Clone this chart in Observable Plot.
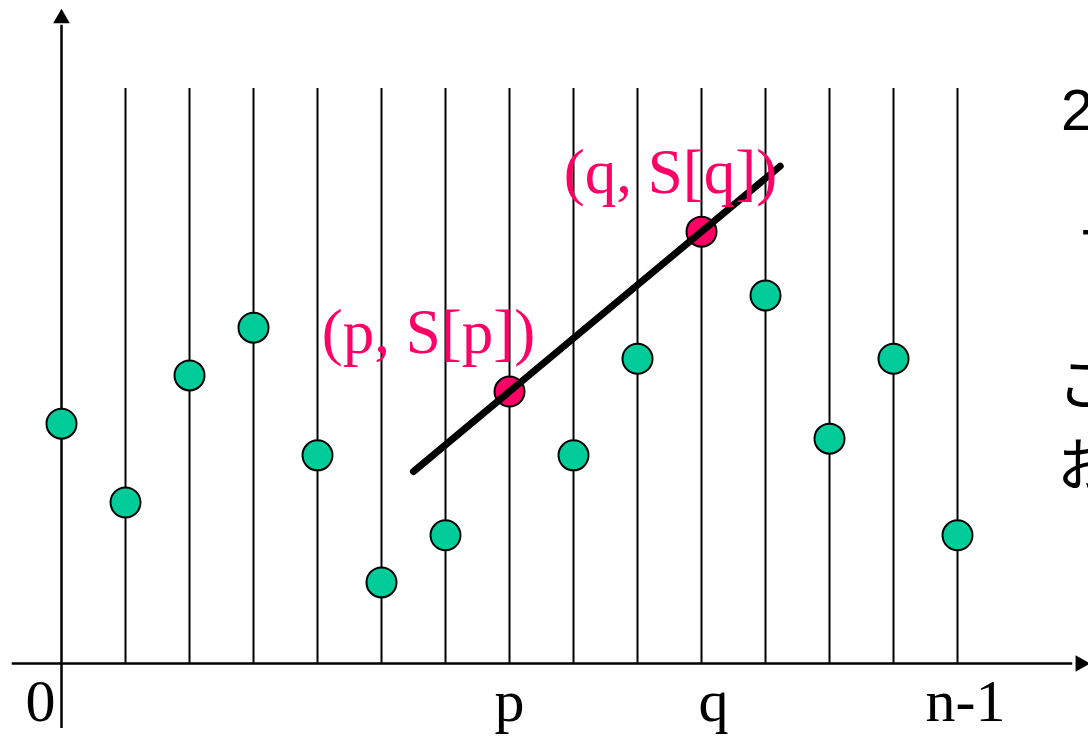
<!DOCTYPE html>
<html>
<head>
<meta charset="utf-8">
<script src="https://cdn.jsdelivr.net/npm/d3@7"></script>
<script src="https://cdn.jsdelivr.net/npm/@observablehq/plot@0.6"></script>
<style>
  html, body { margin: 0; padding: 0; background: #fff; }
  #chart { width: 1088px; height: 742px; overflow: hidden; }
</style>
</head>
<body>
<div id="chart"></div>
<script>
// ---- data ----
const indices = [0, 1, 2, 3, 4, 5, 6, 7, 8, 9, 10, 11, 12, 13, 14];
const values  = [4.17, 2.80, 5.01, 5.84, 3.62, 1.41, 2.23, 4.73, 3.62, 5.30, 7.51, 6.40, 3.91, 5.30, 2.23];
const pIndex = 7;
const qIndex = 10;
const pointLabels = ["(p, S[p])", "(q, S[q])"];
const tickLabels = ["0", "p", "q", "n-1"];
const tickIndex = [0, 7, 10, 14];
const sideText = ["2点を通る直線", "十", "こ", "お"];

// ---- styling / layout ----
const GREEN = "#00CC99";
const RED = "#FF0066";
const serif = "'Liberation Serif', 'Times New Roman', serif";
const jp = "'Liberation Sans', 'Noto Sans CJK JP', sans-serif";

const pts = indices.map((i, k) => ({x: i, y: values[k]}));
const green = pts.filter(d => d.x !== pIndex && d.x !== qIndex);
const red = pts.filter(d => d.x === pIndex || d.x === qIndex);

// line through p and q, extended
const P = pts[pIndex], Q = pts[qIndex];
const slope = (Q.y - P.y) / (Q.x - P.x);
const lineX = [5.5, 11.23];
const fitLine = lineX.map(x => ({x, y: P.y + slope * (x - P.x)}));

const labelData = [
  {x: P.x, y: P.y, t: pointLabels[0], dx: -81},
  {x: Q.x, y: Q.y, t: pointLabels[1], dx: -31}
];
const tickDx = [-21, 0, 12, 8];
const ticks = tickLabels.map((t, k) => ({t, x: tickIndex[k], dx: tickDx[k]}));

const sideLeft = [1061, 1080, 1057, 1057];   // pixel left edges
const sideBase = [130, 257, 405, 486];       // pixel baselines
const side = sideText.map((t, k) => ({t, px: sideLeft[k], py: sideBase[k]}));

const chart = Plot.plot({
  width: 1088,
  height: 742,
  margin: 0,
  x: {domain: [0, 14], range: [61, 957], axis: null},
  y: {domain: [0, 10], range: [663, 88], axis: null},
  marks: [
    // vertical stems
    Plot.ruleX(indices.slice(1), {x: d => d, y1: 0, y2: 10, stroke: "black", strokeWidth: 2}),
    // axes
    Plot.ruleX([0], {x: d => d, y1: -1.13, y2: 11.1, stroke: "black", strokeWidth: 2.5}),
    Plot.ruleY([0], {y: d => d, x1: -0.77, x2: 15.8, stroke: "black", strokeWidth: 2.5}),
    Plot.dot([{x: 0, y: 11.22}], {x: "x", y: "y", symbol: "triangle", r: 6.2, fill: "black", stroke: "none"}),
    Plot.dot([{x: 15.92, y: 0}], {x: "x", y: "y", symbol: "triangle", r: 6.2, fill: "black", stroke: "none", rotate: 90}),
    // points
    Plot.dot(green, {x: "x", y: "y", r: 15, fill: GREEN, stroke: "black", strokeWidth: 2}),
    Plot.dot(red, {x: "x", y: "y", r: 15, fill: RED, stroke: "black", strokeWidth: 2}),
    // line through p,q
    Plot.line(fitLine, {x: "x", y: "y", stroke: "black", strokeWidth: 7}),
    // labels
    Plot.text(labelData, {x: "x", y: "y", text: "t", fill: RED, fontSize: 63, fontFamily: serif,
      lineAnchor: "bottom", textAnchor: "middle"}),
    Plot.text(ticks, {x: "x", y: 0, text: "t", fill: "black", fontSize: 60, fontFamily: serif,
      lineAnchor: "bottom", textAnchor: "middle", dy: 57}),
  ]
});

// apply per-label offsets (dx) and pixel placement tweaks
const svg = d3.select(chart);
const textGroups = svg.selectAll("g[aria-label='text']").nodes();
d3.select(textGroups[0]).selectAll("text").each(function(_, k) {
  const d = labelData[k];
  const tr = this.getAttribute("transform") || "";
  this.setAttribute("transform", tr + ` translate(${d.dx},-39)`);
});
d3.select(textGroups[1]).selectAll("text").each(function(_, k) {
  const d = ticks[k];
  const tr = this.getAttribute("transform") || "";
  this.setAttribute("transform", tr + ` translate(${d.dx},0)`);
});

// side text (cropped at right edge, as in the reference slide)
const g = svg.append("g").attr("font-family", jp).attr("font-size", 58)
  .attr("fill", "black").attr("text-anchor", "start");
side.forEach(d => {
  g.append("text").attr("x", d.px).attr("y", d.py).text(d.t);
});

document.getElementById("chart").appendChild(chart);
</script>
</body>
</html>
